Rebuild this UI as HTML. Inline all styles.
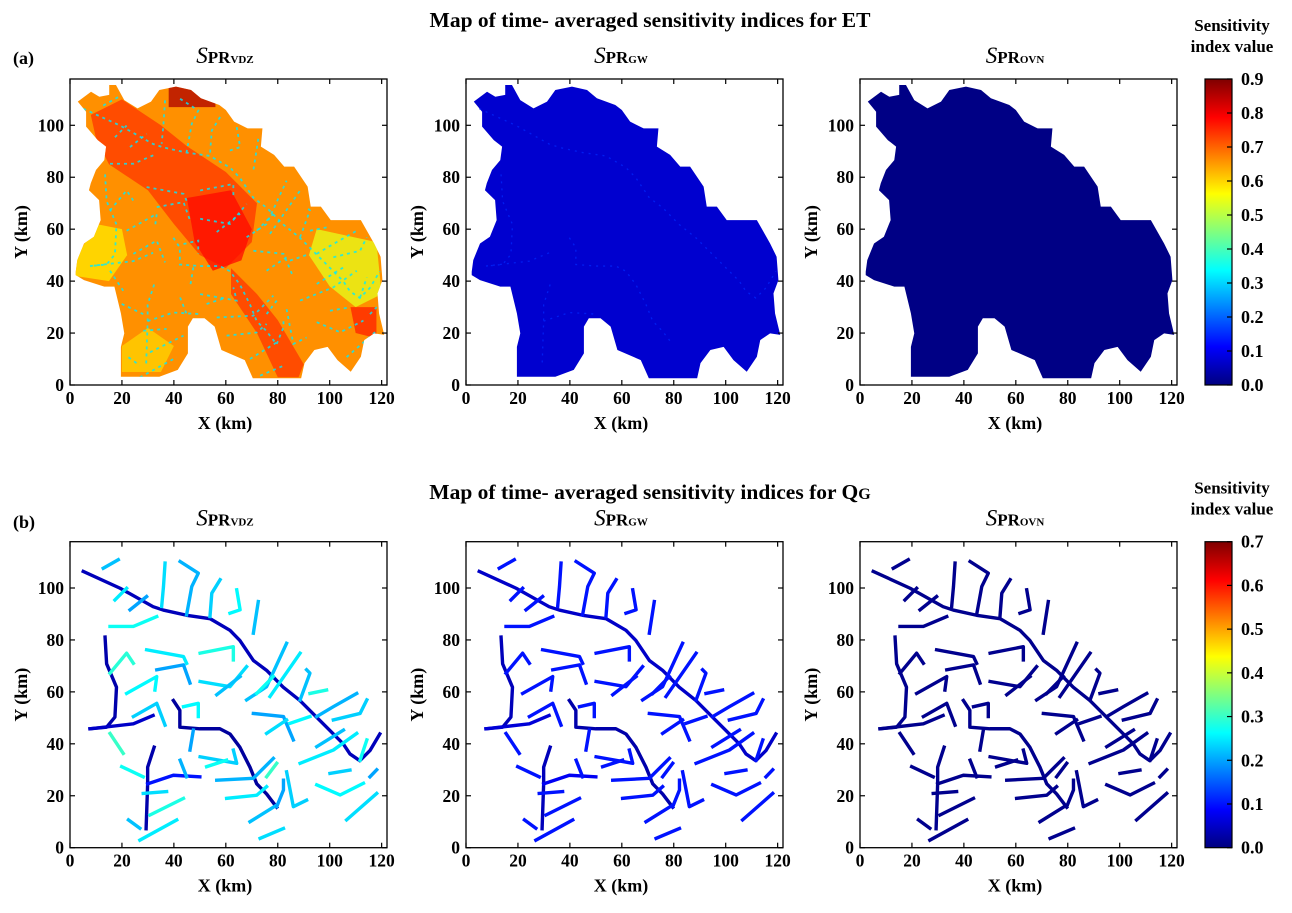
<!DOCTYPE html>
<html><head><meta charset="utf-8">
<style>
html,body{margin:0;padding:0;background:#fff;}
body{width:1292px;height:908px;overflow:hidden;font-family:"Liberation Serif",serif;}
svg text{font-family:"Liberation Serif",serif;font-weight:bold;fill:#000;}
</style></head>
<body>
<svg id="fig" width="1292" height="908" viewBox="0 0 1292 908" xmlns="http://www.w3.org/2000/svg">
<defs>
<linearGradient id="jet" x1="0" y1="1" x2="0" y2="0">
<stop offset="0" stop-color="#00007f"/><stop offset="0.125" stop-color="#0000ff"/>
<stop offset="0.375" stop-color="#00ffff"/><stop offset="0.625" stop-color="#ffff00"/>
<stop offset="0.875" stop-color="#ff0000"/><stop offset="1" stop-color="#7f0000"/>
</linearGradient>
</defs>
<text x="650" y="27" font-size="21.5" text-anchor="middle">Map of time- averaged sensitivity indices for ET</text>
<text x="650" y="499" font-size="21.5" text-anchor="middle">Map of time- averaged sensitivity indices for Q<tspan font-size="16">G</tspan></text>
<text x="13" y="64" font-size="18">(a)</text>
<text x="13" y="528" font-size="18">(b)</text>
<g id="plots"></g>
</svg>
<script>
// catchment outline (km)
const outlineX=[2.2,2.8,5.4,9.2,11.8,11.2,7.3,8,10,13.2,13.9,10.7,6.2,6.2,3,8.1,11.3,15.1,15.1,17.7,20.9,26,31.2,34.4,40.8,46.6,50.4,57.5,60,63.2,68.4,74.1,73.5,78.6,82.5,86.3,91.5,92.7,96.6,100.4,112,117.1,119.6,120.3,118.4,119,121,117.1,113.3,112,108.1,103,99.2,94.1,90.3,89,70.4,67.3,58.3,55.7,51.8,47.3,45.4,45.4,41.5,34.4,19.6,19.6,20.9,19.6,17.1,13.2,5.4,2.2];
const outlineY=[43.6,48.1,54.5,57.1,63.5,71.2,75,77.7,82.8,86.6,91.8,94.3,99.5,105.2,109.1,112.9,111,111.7,115.5,115.5,109.7,106.5,109.1,113.6,114.9,113.6,110.4,107.8,105.9,101.4,98.8,98.8,91.8,88.6,84.1,84.1,76.4,68.7,68.7,63.5,63.5,54.5,49.4,40.4,35.3,27.6,19.3,19.9,17.3,10.9,5.1,9.6,14.7,13.5,8.4,2.6,2.6,9.6,13.5,22.5,25.7,25.7,22.5,12.2,5.8,3.2,3.2,14.7,19.9,27.6,37.9,37.9,40.4,42.3];
// ET VDZ zones: polygons (km) and values
const zoneCoords=[
 [38,107,56,107,56,112,50,115,38,115],
 [8,104,20,110,35,100,45,92,60,82,72,70,70,55,60,45,50,50,40,62,30,75,15,85,10,95],
 [45,72,62,75,70,60,66,48,55,44,48,55],
 [62,45,72,35,80,25,90,8,88,3,80,3,72,20,62,35],
 [95,60,118,55,120,35,110,30,100,38,92,50],
 [2,42,15,40,22,50,20,60,10,62,3,50],
 [108,30,118,30,118,18,110,20],
 [20,5,35,5,40,15,30,22,20,15]
];
const zoneVals=[0.86,0.74,0.78,0.74,0.54,0.58,0.76,0.6];
// river network (km)
const riverCoords=[
 [5.1,106.4,19.3,99.9,32,92.8,35.9,91.5,44.9,89.5,53.9,88.2,61.6,83.7,65.4,79.8,70.6,72.1,75.7,68.3,82.1,61.8,88.5,56.7,96.2,49,101.4,43.8,105.2,40,107.8,36.1,111.6,33.5,115.5,37.4,119.3,43.8],
 [39.8,56.7,42.3,52.9,42.3,46.4,50,45.8,57.7,45.8,61.6,43.8,65.4,38.7,69.3,31,71.9,24.6,75.7,20.7,79.6,15.6],
 [13.5,81.1,14.1,70.8,17.9,61.8,17.3,50.3,14.1,46.4,7.7,45.8],
 [7.7,45.8,24.4,47.7,32,50.9],
 [32.4,38.7,29.9,31,29.9,24.6,29.3,7.3],
 [29.9,24.6,39.8,27.9,50,27.3],
 [12.8,107.6,18.6,110.9],[17.3,95.4,21.8,99.9],[23.1,91.6,29.5,96.7],
 [15.4,85.2,24.4,85.2,33.4,89],[36.6,109.6,36,100.6,35.3,92.9],
 [42.4,110.2,49.4,105.7,46.9,100.6,44.9,89.7],[57.8,103.2,54.6,98,53.9,89],
 [64.2,99.3,65.5,91.6,61.6,90.3],[72.5,94.8,70.6,82.6],
 [29.5,76.2,43.7,73.6,44.9,71],[50.1,74.9,62.9,77.4,62.9,72.3],
 [33.4,68.5,43.7,70.4,46.2,63.4],[50.1,64,61.6,62,68,69.7],[56.5,58.9,65.5,65.9],
 [21.8,59.4,33.4,65.9,32.7,60.7],[15.4,67.2,21.8,74.9,24.4,71],
 [24.4,50.5,33.4,55.6,36.6,47.2],[15.4,44,20.5,36.3],[19.9,31.2,28.2,27.3],
 [42.4,33.7,44.9,27.3],[28.2,20.9,37.2,21.6],[30.8,12.6,43.7,19],[26.9,2.9,41.1,10.7],
 [22.5,10.7,26.9,7.5],[43.7,54.3,49.4,55.6,49.4,50.5],[47.5,45.3,46.2,37.6],
 [50.1,35,64.2,32.5,62.9,37.6],[52.6,31.2,60.3,33.7],[56.5,26,70.6,26.7,78.3,34.4],
 [60.3,19,71.9,20.2,75.7,23.5],[69.3,10,79.6,16.4],[73.2,3.6,82.2,7.4],
 [75.7,27.3,79.6,32.5],[79.6,15.8,82.2,22.2,82.2,26],[83.4,29.2,86,15.8,91.1,18.3],
 [68,56.9,75.7,62,83.4,78.7],[71.9,59.4,78.3,65.9],[77,58.2,88.6,74.9],
 [70.6,51.7,82.2,50.5,86,41.5],[75.7,44,83.4,49.2],[84.7,47.9,92.4,50.5],
 [88.6,56.9,92.4,67.2,91.1,68.5],[92.4,59.4,98.8,60.7],
 [95,50.5,101.4,54.3,110.4,59.4],[101.4,49.2,111.7,51.7,114.3,56.9],
 [88.6,32.5,101.4,37.6,110.4,44],[95,38.9,105.3,45.3],[95,24.2,104,20.3,113,24.8],
 [106.5,10.7,118.1,20.9],[115.5,27.3,118.1,30],[111.7,33.7,114.3,41.5],[100.1,28.6,107.8,29.9]
];
const nR=riverCoords.length;
const qgVdzVals=[0.04,0.02,0.03,0.05,0.03,0.1].concat([0.22,0.25,0.2,0.27,0.24,0.21,0.23,0.26,0.22,0.25,0.28,0.2,0.24,0.22,0.26,0.29,0.23,0.3,0.27,0.21,0.24,0.28,0.25,0.22,0.26,0.2,0.23,0.27,0.21,0.25,0.22,0.24,0.3,0.2,0.23,0.22,0.27,0.25,0.2,0.24,0.26,0.22,0.28,0.21,0.23,0.25,0.22,0.26,0.24,0.2,0.27,0.23,0.25,0.22,0.21,0.24,0.26,0.23,0.2]);
const qgGwVals=[0.05,0.03,0.04,0.06,0.04,0.08].concat(new Array(nR-6).fill(0.1));
const qgOvnVals=new Array(nR).fill(0.01);
// panel config
const panelX0=[70,466,860];
const etBase=[0.66,0.07,0.005];
const etRiverVal=[0.32,0.15,null];
const panelTitles=["VDZ","GW","OVN"];
const cbTicksTop=[0,0.1,0.2,0.3,0.4,0.5,0.6,0.7,0.8,0.9];
const cbTicksBot=[0,0.1,0.2,0.3,0.4,0.5,0.6,0.7];
const xTicks=[0,20,40,60,80,100,120];
const yTicks=[0,20,40,60,80,100];

const S=2.597, FW=317, FH=306;
const NS="http://www.w3.org/2000/svg";
const root=document.getElementById('plots');
function jet(t){t=Math.max(0,Math.min(1,t));
 const c=(a)=>Math.round(255*Math.max(0,Math.min(1,a)));
 const r=1.5-Math.abs(4*t-3), g=1.5-Math.abs(4*t-2), b=1.5-Math.abs(4*t-1);
 return `rgb(${c(r)},${c(g)},${c(b)})`;}
function mk(tag,attrs,parent){const e=document.createElementNS(NS,tag);for(const k in attrs)e.setAttribute(k,attrs[k]);(parent||root).appendChild(e);return e;}
function pts(flat,sx,sy){let s=[];for(let i=0;i<flat.length;i+=2)s.push(sx(flat[i])+','+sy(flat[i+1]));return s.join(' ');}

for(let row=0;row<2;row++){
 const yBase=row===0?385:847.7;
 const vmax=row===0?0.9:0.7;
 for(let p=0;p<3;p++){
  const x0=panelX0[p];
  const sx=v=>x0+v*S, sy=v=>yBase-v*S;
  const g=mk('g',{});
  
  
  const cid='clip'+row+p;
  const cp=mk('clipPath',{id:cid},g);
  mk('rect',{x:x0,y:yBase-FH,width:FW,height:FH},cp);
  const pg=mk('g',{'clip-path':'url(#'+cid+')'},g);
  if(row===0){
   const flat=[];outlineX.forEach((v,i)=>{flat.push(v,outlineY[i]);});
   const poly=mk('polygon',{points:pts(flat,sx,sy),fill:jet(etBase[p]/vmax)},pg);
   
   
   if(p===0){
    const ocid='oclip'+p;
    const oc=mk('clipPath',{id:ocid},g);
    mk('polygon',{points:pts(flat,sx,sy)},oc);
    const zg=mk('g',{'clip-path':'url(#'+ocid+')'},pg);
    zoneCoords.forEach((z,i)=>{
     const zp=mk('polygon',{points:pts(z,sx,sy),fill:jet(zoneVals[i]/vmax),opacity:0.75},zg);
     
     
    });
    riverCoords.forEach((r)=>{
     const l=mk('polyline',{points:pts(r,sx,sy),fill:'none',stroke:jet(etRiverVal[p]/vmax),'stroke-width':1.8,'stroke-dasharray':'3 4',opacity:0.8},zg);
     
     
    });
   } else if(etRiverVal[p]!==null){
    riverCoords.slice(0,6).forEach((r)=>{
     const l=mk('polyline',{points:pts(r,sx,sy),fill:'none',stroke:jet(etRiverVal[p]/vmax),'stroke-width':1.3,'stroke-dasharray':'2 5',opacity:0.7},pg);
     
     
    });
   }
  } else {
   const vals=p===0?qgVdzVals:(p===1?qgGwVals:qgOvnVals);
   riverCoords.forEach((r,i)=>{
    const l=mk('polyline',{points:pts(r,sx,sy),fill:'none',stroke:jet(vals[i]/vmax),'stroke-width':3.4,'stroke-linejoin':'round','stroke-linecap':'square'},pg);
    
    
   });
  }
  // frame
  const fr=mk('rect',{x:x0,y:yBase-FH,width:FW,height:FH,fill:'none',stroke:'#000','stroke-width':1.3},g);
  
  
  xTicks.forEach(t=>{
   const X=sx(t);
   mk('line',{x1:X,x2:X,y1:yBase,y2:yBase-5,stroke:'#000','stroke-width':1.2},g);
   mk('line',{x1:X,x2:X,y1:yBase-FH,y2:yBase-FH+5,stroke:'#000','stroke-width':1.2},g);
   const tl=mk('text',{x:X,y:yBase+19,'font-size':17.5,'text-anchor':'middle'},g);
   tl.textContent=t;
   
   
  });
  yTicks.forEach(t=>{
   const Y=sy(t);
   mk('line',{x1:x0,x2:x0+5,y1:Y,y2:Y,stroke:'#000','stroke-width':1.2},g);
   mk('line',{x1:x0+FW,x2:x0+FW-5,y1:Y,y2:Y,stroke:'#000','stroke-width':1.2},g);
   const tl=mk('text',{x:x0-6,y:Y+6,'font-size':17.5,'text-anchor':'end'},g);
   tl.textContent=t;
   
   
  });
  const xl=mk('text',{x:x0+155,y:yBase+44,'font-size':18,'text-anchor':'middle'},g);
  xl.textContent='X (km)';
  
  
  const yl=mk('text',{x:0,y:0,'font-size':18,'text-anchor':'middle',transform:`translate(${x0-43},${yBase-153}) rotate(-90)`},g);
  yl.textContent='Y (km)';
  
  
  const tt=mk('text',{x:x0+155,y:yBase-FH-16,'text-anchor':'middle'},g);
  
  
  const s1=mk('tspan',{'font-size':23,'font-style':'italic','font-weight':'normal'},tt);s1.textContent='S';
  const s2=mk('tspan',{'font-size':17},tt);s2.textContent='PR';
  const s3=mk('tspan',{'font-size':11},tt);s3.textContent=panelTitles[p];
 }
 // colorbar
 const cg=mk('g',{});
 
 
 const cTop=yBase-FH, cH=FH;
 const cb=mk('rect',{x:1205,y:cTop,width:27,height:cH,fill:'url(#jet)',stroke:'#000','stroke-width':1.2},cg);
 
 
 const ticks=row===0?cbTicksTop:cbTicksBot;
 ticks.forEach(t=>{
  const Y=yBase-t/vmax*cH;
  mk('line',{x1:1232,x2:1227,y1:Y,y2:Y,stroke:'#000','stroke-width':1.2},cg);
  const tl=mk('text',{x:1241,y:Y+6,'font-size':18},cg);
  tl.textContent=t.toFixed(1);
  
  
 });
 const t1=mk('text',{x:1232,y:cTop-48,'font-size':17,'text-anchor':'middle'},cg);t1.textContent='Sensitivity';
 
 
 const t2=mk('text',{x:1232,y:cTop-27,'font-size':17,'text-anchor':'middle'},cg);t2.textContent='index value';
 
 
}
</script>
</body></html>
